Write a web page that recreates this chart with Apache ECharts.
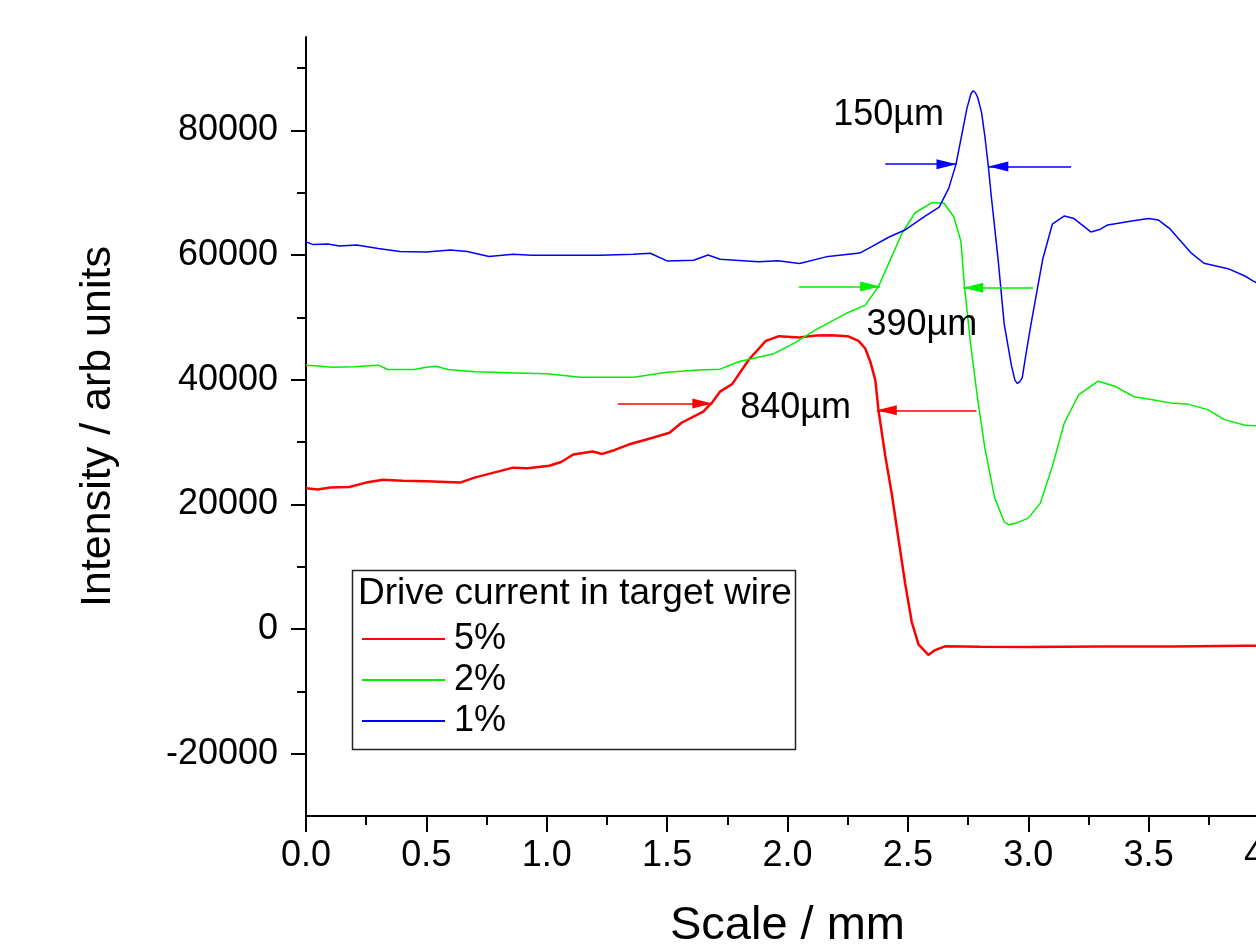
<!DOCTYPE html>
<html>
<head>
<meta charset="utf-8">
<script src="https://cdn.jsdelivr.net/npm/echarts@6/dist/echarts.min.js"></script>
<style>html,body{margin:0;padding:0;background:#fff}#c{width:1256px;height:946px}</style>
</head>
<body>
<div id="c"></div>
<script>
// ---- data (x in mm, y in arb units) ----
const seriesNames = ['5%', '2%', '1%'];
const legendTitle = 'Drive current in target wire';

const red5 = [[0.00,22600],[0.05,22400],[0.10,22700],[0.18,22800],[0.25,23500],[0.32,23950],[0.40,23800],[0.50,23700],[0.64,23500],[0.70,24300],[0.78,25100],[0.86,25900],[0.92,25800],[1.01,26200],[1.06,26800],[1.11,28000],[1.19,28500],[1.23,28100],[1.28,28700],[1.34,29600],[1.44,30700],[1.51,31500],[1.56,33100],[1.65,34900],[1.69,36500],[1.72,38100],[1.77,39300],[1.84,43250],[1.91,46230],[1.965,47000],[2.05,46800],[2.12,47100],[2.18,47150],[2.25,47000],[2.295,46230],[2.323,45010],[2.344,42900],[2.365,39900],[2.378,35100],[2.406,27800],[2.433,21700],[2.461,14450],[2.489,7230],[2.516,1160],[2.544,-2460],[2.585,-4160],[2.613,-3380],[2.654,-2770],[2.8,-2850],[3.0,-2900],[3.3,-2800],[3.6,-2800],[3.9,-2700],[4.0,-2700]];

const green2 = [[0.00,42340],[0.05,42200],[0.11,42000],[0.20,42100],[0.30,42340],[0.34,41650],[0.45,41650],[0.50,42000],[0.54,42180],[0.59,41650],[0.70,41270],[0.87,41100],[1.00,40950],[1.14,40400],[1.36,40400],[1.50,41200],[1.63,41580],[1.72,41700],[1.80,42930],[1.94,44120],[2.03,45920],[2.12,48080],[2.25,50760],[2.323,51980],[2.378,54980],[2.427,59240],[2.475,63470],[2.53,66800],[2.60,68430],[2.65,68330],[2.69,66200],[2.72,62260],[2.735,55000],[2.76,45920],[2.79,36850],[2.82,28990],[2.86,21130],[2.90,17200],[2.92,16720],[2.95,17000],[3.00,17800],[3.05,20200],[3.10,26100],[3.15,33080],[3.21,37630],[3.29,39770],[3.36,38960],[3.44,37260],[3.51,36820],[3.59,36290],[3.66,36130],[3.745,35210],[3.815,33600],[3.90,32700],[4.0,32500]];

const blue1 = [[0.00,62120],[0.03,61690],[0.09,61800],[0.14,61470],[0.21,61630],[0.30,61050],[0.39,60570],[0.50,60500],[0.60,60830],[0.67,60570],[0.76,59770],[0.86,60140],[0.94,59980],[1.08,59980],[1.22,59980],[1.36,60140],[1.43,60300],[1.50,59070],[1.61,59170],[1.67,60030],[1.72,59330],[1.88,58930],[1.96,59100],[2.05,58640],[2.16,59720],[2.30,60330],[2.35,61360],[2.42,62870],[2.49,64080],[2.57,66200],[2.63,67700],[2.67,70750],[2.70,74600],[2.723,79150],[2.745,83500],[2.762,85900],[2.771,86380],[2.78,86100],[2.79,85300],[2.806,82900],[2.82,79000],[2.834,74320],[2.847,69240],[2.875,59240],[2.90,48960],[2.93,42300],[2.945,39900],[2.955,39400],[2.965,39700],[2.975,40300],[2.99,44000],[3.01,48600],[3.06,59330],[3.10,64960],[3.15,66290],[3.19,65870],[3.26,63720],[3.30,64160],[3.33,64850],[3.43,65490],[3.50,65870],[3.54,65650],[3.59,64160],[3.675,60410],[3.73,58690],[3.83,57830],[3.90,56650],[3.935,55840],[4.0,54500]];

// width-marker arrows: [start, tip]
const arrows5 = [[[1.295,36180],[1.688,36180]], [[2.785,35100],[2.371,35100]]];
const arrows2 = [[[2.047,54950],[2.385,54950]], [[3.020,54780],[2.730,54780]]];
const arrows1 = [[[2.406,74600],[2.702,74600]], [[3.178,74240],[2.834,74240]]];

// width labels
const note5 = {text: '840µm', at: [2.034, 35400]};
const note2 = {text: '390µm', at: [2.558, 48850]};
const note1 = {text: '150µm', at: [2.420, 82400]};

// axis ticks
const yLabelValues = [-20000, 0, 20000, 40000, 60000, 80000];
const yMinorValues = [-10000, 10000, 30000, 50000, 70000, 90000];
const xRange = [0, 4];
const yRange = [-30000, 95000];

const colors = ['#ff0000', '#00ee00', '#0000ff'];
const widths = [2.5, 1.5, 1.5];
const FONT = 'Liberation Sans, Arial, sans-serif';

function arrowMarks(arr, color) {
  return {
    silent: true,
    animation: false,
    symbol: ['none', 'none'],
    lineStyle: {color: color, width: 1.5, type: 'solid'},
    label: {show: false},
    emphasis: {disabled: true},
    data: arr.map(a => [
      {coord: a[0], symbol: 'none'},
      {coord: a[1], symbol: 'triangle', symbolSize: [10, 20], symbolOffset: [0, 10]}
    ])
  };
}
function noteMark(n) {
  return {
    silent: true,
    animation: false,
    symbol: 'circle',
    symbolSize: 1,
    itemStyle: {color: 'rgba(0,0,0,0)'},
    label: {show: true, position: 'inside', formatter: n.text, color: '#000', fontSize: 36, fontFamily: FONT},
    data: [{coord: n.at}]
  };
}

const dataSets = [red5, green2, blue1];
const arrowSets = [arrows5, arrows2, arrows1];
const noteSets = [note5, note2, note1];

const chart = echarts.init(document.getElementById('c'), null, {renderer: 'canvas'});
chart.setOption({
  animation: false,
  backgroundColor: '#fff',
  textStyle: {fontFamily: FONT},
  grid: {left: 306, top: 37, width: 963, height: 779, containLabel: false, outerBoundsMode: 'none'},
  xAxis: {
    type: 'value', min: xRange[0], max: xRange[1], interval: 0.5,
    axisLine: {show: true, onZero: false, lineStyle: {color: '#000', width: 2}},
    axisTick: {show: true, inside: false, length: 16, lineStyle: {color: '#000', width: 2}},
    minorTick: {show: true, splitNumber: 2, length: 9, lineStyle: {color: '#000', width: 2}},
    splitLine: {show: false},
    axisLabel: {color: '#000', fontSize: 36, fontFamily: FONT, margin: 22, formatter: v => v.toFixed(1)},
    name: 'Scale / mm', nameLocation: 'middle', nameGap: 87,
    nameTextStyle: {color: '#000', fontSize: 47, fontFamily: FONT}
  },
  yAxis: [{
    type: 'value', min: yRange[0], max: yRange[1], position: 'left',
    axisLine: {show: true, onZero: false, lineStyle: {color: '#000', width: 2}},
    axisTick: {show: true, inside: false, length: 15, customValues: yLabelValues, lineStyle: {color: '#000', width: 2}},
    axisLabel: {color: '#000', fontSize: 36, fontFamily: FONT, margin: 28, customValues: yLabelValues, formatter: v => String(v)},
    splitLine: {show: false},
    name: 'Intensity / arb units', nameLocation: 'middle', nameGap: 186,
    nameTextStyle: {color: '#000', fontSize: 43, fontFamily: FONT}
  }, {
    type: 'value', min: yRange[0], max: yRange[1], position: 'left',
    axisLine: {show: false, onZero: false},
    axisTick: {show: true, inside: false, length: 9, customValues: yMinorValues, lineStyle: {color: '#000', width: 2}},
    axisLabel: {show: false},
    splitLine: {show: false}
  }],
  legend: {
    data: seriesNames.map((n, i) => ({name: n, icon: 'rect', itemStyle: {color: colors[i]}})),
    orient: 'vertical', left: 357, top: 616,
    itemWidth: 83, itemHeight: 2, itemGap: 5,
    selectedMode: false,
    textStyle: {color: '#000', fontSize: 36, fontFamily: FONT, padding: [0, 0, 0, 4]}
  },
  graphic: [
    {type: 'rect', left: 350, top: 568, shape: {width: 443, height: 179}, style: {fill: 'none', stroke: '#222', lineWidth: 1.5}, silent: true},
    {type: 'text', left: 358, top: 575, style: {text: legendTitle, fill: '#000', font: '37px ' + FONT}, silent: true}
  ],
  series: seriesNames.map((name, i) => ({
    name: name,
    type: 'line',
    data: dataSets[i],
    symbol: 'none',
    showSymbol: false,
    smooth: false,
    lineStyle: {color: colors[i], width: widths[i]},
    itemStyle: {color: colors[i]},
    emphasis: {disabled: true},
    markLine: arrowMarks(arrowSets[i], colors[i]),
    markPoint: noteMark(noteSets[i])
  }))
});
</script>
</body>
</html>
